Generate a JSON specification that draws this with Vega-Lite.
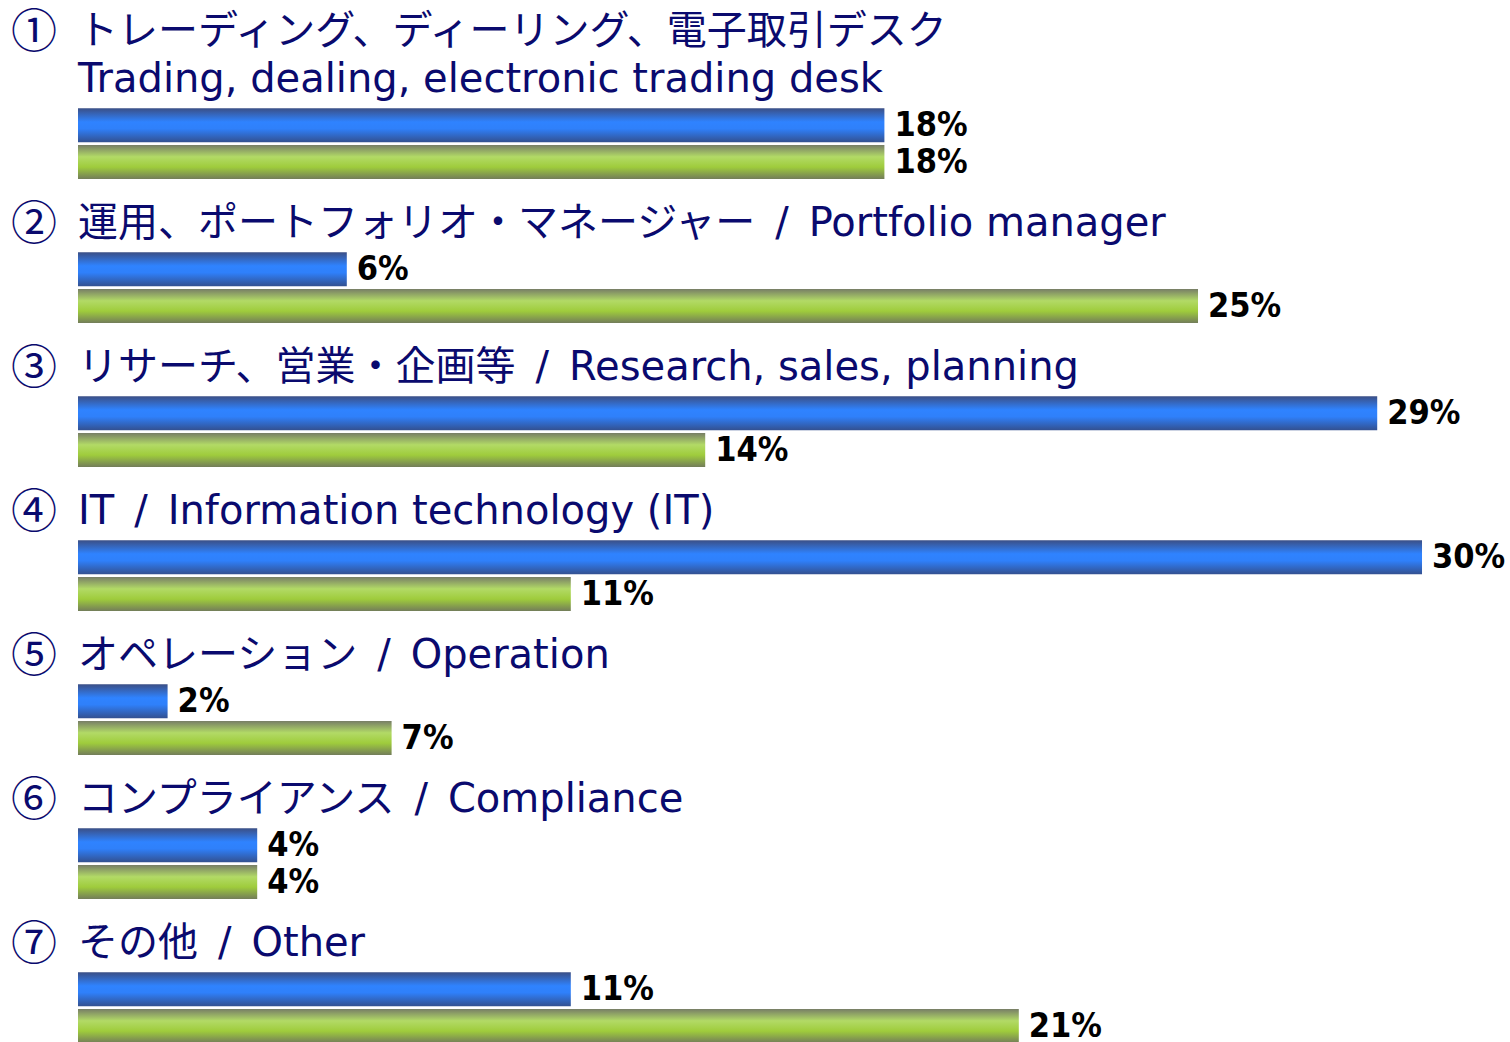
{
  "$schema": "https://vega.github.io/schema/vega-lite/v6.json",
  "width": 1432,
  "height": 1008,
  "autosize": {"type": "none"},
  "padding": {"left": 78, "top": 35, "right": 0, "bottom": 0},
  "background": "white",
  "config": {"view": {"stroke": null}},
  "datasets": {
    "bars": [
      {"group": 1, "series": "blue", "value": 0.18},
      {"group": 1, "series": "green", "value": 0.18},
      {"group": 2, "series": "blue", "value": 0.06},
      {"group": 2, "series": "green", "value": 0.25},
      {"group": 3, "series": "blue", "value": 0.29},
      {"group": 3, "series": "green", "value": 0.14},
      {"group": 4, "series": "blue", "value": 0.30},
      {"group": 4, "series": "green", "value": 0.11},
      {"group": 5, "series": "blue", "value": 0.02},
      {"group": 5, "series": "green", "value": 0.07},
      {"group": 6, "series": "blue", "value": 0.04},
      {"group": 6, "series": "green", "value": 0.04},
      {"group": 7, "series": "blue", "value": 0.11},
      {"group": 7, "series": "green", "value": 0.21}
    ],
    "titles": [
      {"group": 1, "line": "upper", "num": "①", "title": "トレーディング、ディーリング、電子取引デスク"},
      {"group": 1, "line": "lower", "num": "", "title": "Trading, dealing, electronic trading desk"},
      {"group": 2, "line": "lower", "num": "②", "title": "運用、ポートフォリオ・マネージャー\u2002/\u2002Portfolio manager"},
      {"group": 3, "line": "lower", "num": "③", "title": "リサーチ、営業・企画等\u2002/\u2002Research, sales, planning"},
      {"group": 4, "line": "lower", "num": "④", "title": "IT\u2002/\u2002Information technology (IT)"},
      {"group": 5, "line": "lower", "num": "⑤", "title": "オペレーション\u2002/\u2002Operation"},
      {"group": 6, "line": "lower", "num": "⑥", "title": "コンプライアンス\u2002/\u2002Compliance"},
      {"group": 7, "line": "lower", "num": "⑦", "title": "その他\u2002/\u2002Other"}
    ]
  },
  "layer": [
    {
      "data": {"name": "bars"},
      "transform": [{"filter": "datum.series === 'blue'"}],
      "mark": {
        "type": "bar",
        "fill": {
          "gradient": "linear", "x1": 0, "y1": 0, "x2": 0, "y2": 1,
          "stops": [
            {"offset": 0, "color": "#3b4f86"},
            {"offset": 0.4, "color": "#2f83ff"},
            {"offset": 0.6, "color": "#2f80fa"},
            {"offset": 1, "color": "#33508f"}
          ]
        }
      },
      "encoding": {
        "y": {"field": "group", "type": "ordinal", "axis": null, "scale": {"paddingInner": 0, "paddingOuter": 0}},
        "yOffset": {"field": "series", "type": "nominal", "scale": {"domain": ["blue", "green"], "paddingInner": 0.07, "paddingOuter": 1, "align": 1}},
        "x": {"field": "value", "type": "quantitative", "axis": null, "scale": {"domain": [0, 0.31964], "nice": false, "zero": true}}
      }
    },
    {
      "data": {"name": "bars"},
      "transform": [{"filter": "datum.series === 'green'"}],
      "mark": {
        "type": "bar",
        "fill": {
          "gradient": "linear", "x1": 0, "y1": 0, "x2": 0, "y2": 1,
          "stops": [
            {"offset": 0, "color": "#777d66"},
            {"offset": 0.35, "color": "#b2da66"},
            {"offset": 0.65, "color": "#9fcc3c"},
            {"offset": 1, "color": "#737d5a"}
          ]
        }
      },
      "encoding": {
        "y": {"field": "group", "type": "ordinal", "axis": null},
        "yOffset": {"field": "series", "type": "nominal"},
        "x": {"field": "value", "type": "quantitative", "axis": null}
      }
    },
    {
      "data": {"name": "bars"},
      "mark": {"type": "text", "align": "left", "baseline": "middle", "dx": 10, "dy": 1, "font": "DejaVu Sans Condensed", "fontWeight": "bold", "fontSize": 34, "color": "#000000"},
      "encoding": {
        "y": {"field": "group", "type": "ordinal", "axis": null},
        "yOffset": {"field": "series", "type": "nominal"},
        "x": {"field": "value", "type": "quantitative", "axis": null},
        "text": {"field": "value", "type": "quantitative", "format": ".0%"}
      }
    },
    {
      "data": {"name": "titles"},
      "transform": [{"filter": "datum.line === 'lower'"}],
      "mark": {"type": "text", "align": "left", "baseline": "bottom", "dy": -7, "font": "DejaVu Sans, Noto Sans CJK JP", "fontSize": 40, "color": "#0a0a6e"},
      "encoding": {
        "y": {"field": "group", "type": "ordinal", "axis": null},
        "x": {"datum": 0, "type": "quantitative"},
        "text": {"field": "title"}
      }
    },
    {
      "data": {"name": "titles"},
      "transform": [{"filter": "datum.line === 'upper'"}],
      "mark": {"type": "text", "align": "left", "baseline": "bottom", "dy": -55, "font": "DejaVu Sans, Noto Sans CJK JP", "fontSize": 40, "color": "#0a0a6e"},
      "encoding": {
        "y": {"field": "group", "type": "ordinal", "axis": null},
        "x": {"datum": 0, "type": "quantitative"},
        "text": {"field": "title"}
      }
    },
    {
      "data": {"name": "titles"},
      "transform": [{"filter": "datum.line === 'lower'"}],
      "mark": {"type": "text", "align": "center", "baseline": "bottom", "dx": -44, "dy": -2, "font": "Noto Sans CJK JP", "fontSize": 46, "color": "#0a0a6e"},
      "encoding": {
        "y": {"field": "group", "type": "ordinal", "axis": null},
        "x": {"datum": 0, "type": "quantitative"},
        "text": {"field": "num"}
      }
    },
    {
      "data": {"name": "titles"},
      "transform": [{"filter": "datum.line === 'upper'"}],
      "mark": {"type": "text", "align": "center", "baseline": "bottom", "dx": -44, "dy": -50, "font": "Noto Sans CJK JP", "fontSize": 46, "color": "#0a0a6e"},
      "encoding": {
        "y": {"field": "group", "type": "ordinal", "axis": null},
        "x": {"datum": 0, "type": "quantitative"},
        "text": {"field": "num"}
      }
    }
  ]
}
